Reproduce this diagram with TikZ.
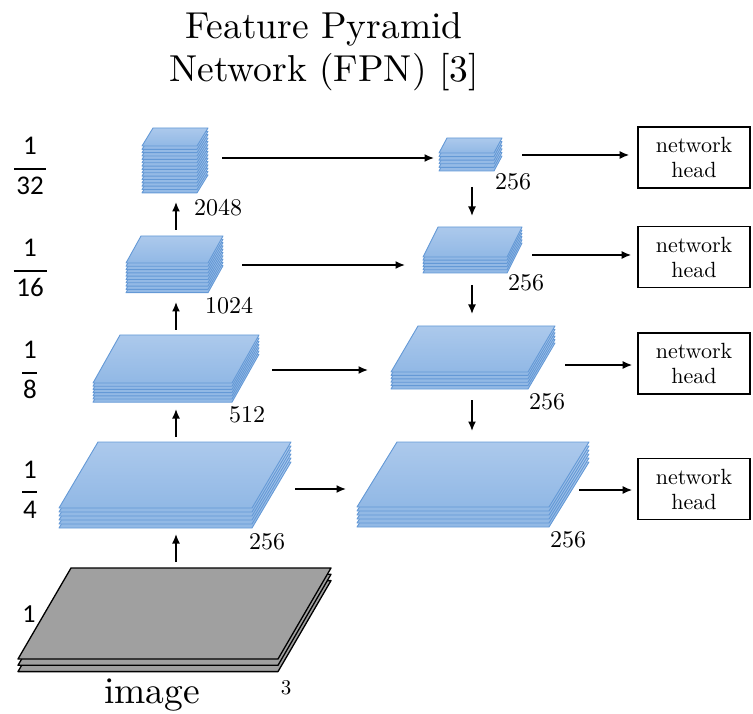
\documentclass[tikz,border=0pt]{standalone}
\usepackage{fontspec}
\setmainfont{lmroman10-regular.otf}
\usetikzlibrary{arrows.meta}
\newfontfamily\carlito{Carlito}
\definecolor{fmtop}{RGB}{172,201,236}
\definecolor{fmbot}{RGB}{145,184,229}
\definecolor{fmedge}{RGB}{100,153,214}
\definecolor{fmgray}{RGB}{160,160,160}
\newcommand\fmstack[8]{%
  \foreach \k in {1,...,#6}{%
    \pgfmathsetmacro\fmoff{(#6-\k)*#7}%
    \path[#8] (#1,#2+\fmoff) -- ++(#3,0) -- ++(#4,-#5) -- ++(-#3,0) -- cycle;
  }}
\newcommand\fmfrac[3]{\vbox{\hsize=#3\offinterlineskip
  \hbox to\hsize{\hfil\smash{#1}\hfil}%
  \kern13pt\hrule height 2pt\kern25pt
  \hbox to\hsize{\hfil\smash{#2}\hfil}}}
\begin{document}
\begin{tikzpicture}[x=1pt,y=-1pt,
  layer/.style={draw=fmedge,line width=0.9pt,top color=fmtop,bottom color=fmbot,line join=round},
  imglayer/.style={draw=black,line width=1.3pt,fill=fmgray,line join=round},
  arr/.style={line width=1.5pt,-{Latex[length=9.5pt,width=8pt]}},
  head/.style={draw,line width=1.6pt,minimum width=112pt,minimum height=61pt,inner sep=0pt,
    align=center,font=\fontsize{22}{25}\selectfont},
  num/.style={anchor=base west,inner sep=0pt,font=\fontsize{24}{28}\selectfont},
  frac/.style={anchor=base,inner sep=0pt,font=\carlito\fontsize{27}{30}\selectfont}]
\path[use as bounding box] (0,0) rectangle (753,714);

% title
\node[anchor=base,inner sep=0pt,font=\fontsize{37.5}{43}\selectfont] (title1) at (324,39) {Feature Pyramid};
\node[anchor=base,inner sep=0pt,font=\fontsize{37.5}{43}\selectfont] (title2) at (324,82) {Network (FPN) [3]};

% scale fractions
\node[frac] (f32) at (30,195) {\fmfrac{1}{32}{32pt}};
\node[frac] (f16) at (30,297) {\fmfrac{1}{16}{33pt}};
\node[frac] (f8) at (30,399) {\fmfrac{1}{8}{15pt}};
\node[frac] (f4) at (30,518) {\fmfrac{1}{4}{15pt}};

% image
\fmstack{18}{659}{260}{53}{91}{3}{6.3}{imglayer}
\node[anchor=base,inner sep=0pt,font=\fontsize{37.5}{43}\selectfont] (imgtxt) at (152,703) {image};
\node[anchor=base,inner sep=0pt,font=\carlito\fontsize{26}{30}\selectfont] (img1) at (29,622) {1};
\node[anchor=base,inner sep=0pt,font=\fontsize{21}{24}\selectfont] (img3) at (286,694) {3};

% bottom-up stacks
\fmstack{59}{508}{193}{39}{66}{6}{4}{layer}
\fmstack{93}{383}{139}{27}{48}{7}{3.2}{layer}
\fmstack{126}{263}{82}{15}{27}{10}{3.3}{layer}
\fmstack{142}{146}{55}{11}{18}{15}{3.35}{layer}
\node[num] (n256a) at (249,549) {256};
\node[num] (n512) at (229,422) {512};
\node[num] (n1024) at (205,314) {1024};
\node[num] (n2048) at (194,216) {2048};

% top-down stacks
\fmstack{439}{153}{55}{8}{15}{6}{3.6}{layer}
\fmstack{423}{257}{84}{15}{30}{6}{3.2}{layer}
\fmstack{391}{372}{137}{27}{46}{6}{3.4}{layer}
\fmstack{357}{507}{192}{40}{65}{6}{4}{layer}
\node[num] (r256a) at (495,190) {256};
\node[num] (r256b) at (508,291) {256};
\node[num] (r256c) at (529,409) {256};
\node[num] (r256d) at (550,547) {256};

% heads
\node[head] (h1) at (694,157.5) {network\\head};
\node[head] (h2) at (694,257) {network\\head};
\node[head] (h3) at (694,363.5) {network\\head};
\node[head] (h4) at (694,489) {network\\head};

% connector endpoints
\coordinate (imgtop) at (176,562);
\coordinate (l1bot) at (176,534);
\coordinate (l1top) at (176,437);
\coordinate (l2bot) at (176,409);
\coordinate (l2top) at (176,330);
\coordinate (l3bot) at (176,302);
\coordinate (l3top) at (176,230);
\coordinate (l4bot) at (176,202);
\coordinate (l4r) at (222,158);
\coordinate (r4l) at (434,158);
\coordinate (l3r) at (242,265);
\coordinate (r3l) at (405,265);
\coordinate (l2r) at (272,370);
\coordinate (r2l) at (368,370);
\coordinate (l1r) at (295,489);
\coordinate (r1l) at (346,489);
\coordinate (r4r) at (522,155);
\coordinate (r3r) at (532,255);
\coordinate (r2r) at (565,365);
\coordinate (r1r) at (579,490);
\coordinate (r4bot) at (472,187);
\coordinate (r3top) at (472,216);
\coordinate (r3bot) at (472,285);
\coordinate (r2top) at (472,314);
\coordinate (r2bot) at (472,400);
\coordinate (r1top) at (472,431);

\draw[arr] (imgtop) -- (l1bot);
\draw[arr] (l1top) -- (l2bot);
\draw[arr] (l2top) -- (l3bot);
\draw[arr] (l3top) -- (l4bot);
\draw[arr] (l4r) -- (r4l);
\draw[arr] (l3r) -- (r3l);
\draw[arr] (l2r) -- (r2l);
\draw[arr] (l1r) -- (r1l);
\draw[arr] (r4bot) -- (r3top);
\draw[arr] (r3bot) -- (r2top);
\draw[arr] (r2bot) -- (r1top);
\draw[arr] (r4r) -- ([xshift=-8pt]r4r -| h1.west);
\draw[arr] (r3r) -- ([xshift=-6pt]r3r -| h2.west);
\draw[arr] (r2r) -- ([xshift=-5pt]r2r -| h3.west);
\draw[arr] (r1r) -- ([xshift=-5pt]r1r -| h4.west);
\end{tikzpicture}
\end{document}
